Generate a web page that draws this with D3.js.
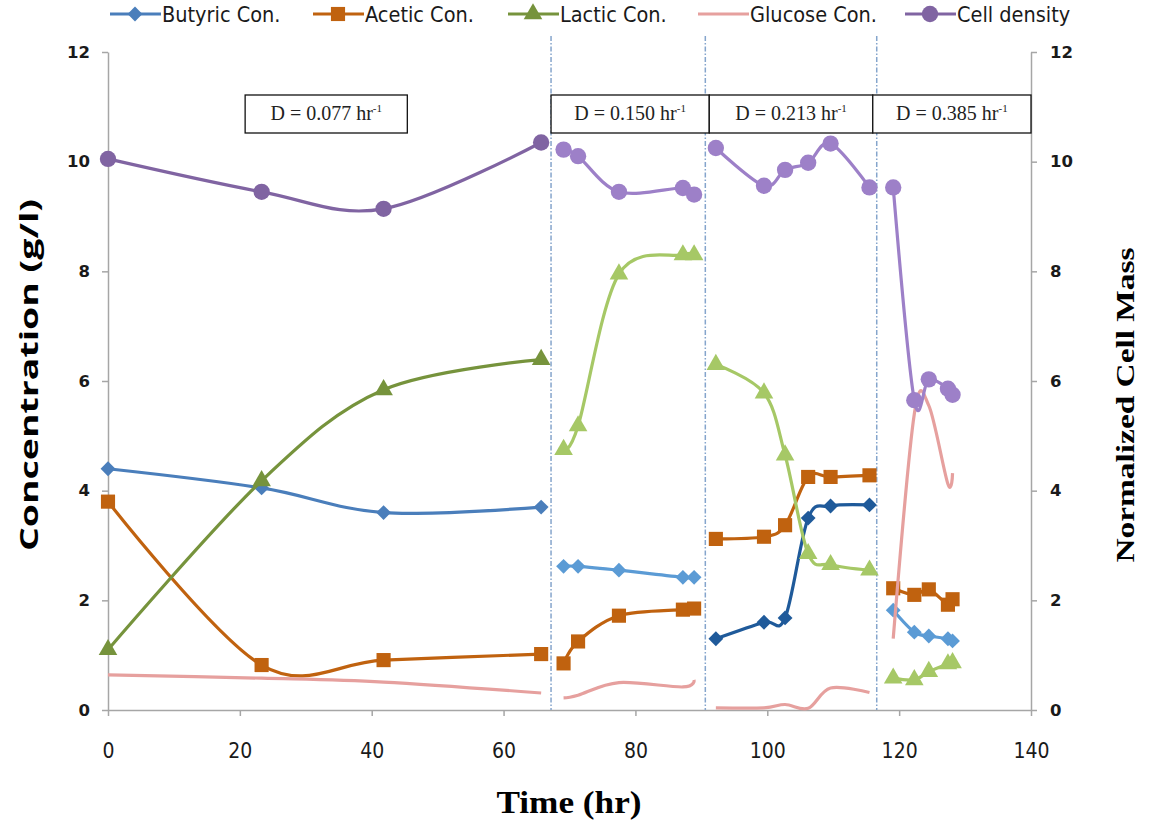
<!DOCTYPE html>
<html>
<head>
<meta charset="utf-8">
<script src="https://cdn.jsdelivr.net/npm/d3@7"></script>
<style>
	body { margin: 0; background: #fff; }
	svg { display: block; }
</style>
</head>
<body>
<script>
// data, one sub-array per dilution-rate period
var timeSegs = [
	[0, 23.3, 41.8, 65.7],
	[69.1, 71.3, 77.5, 87.2, 88.9],
	[92.2, 99.5, 102.7, 106.2, 109.6, 115.5],
	[119.1, 122.3, 124.5, 127.4, 128.1]
];
var butyric = [
	[4.4, 4.05, 3.6, 3.7],
	[2.62, 2.62, 2.55, 2.42, 2.42],
	[1.3, 1.6, 1.68, 3.5, 3.72, 3.74],
	[1.82, 1.42, 1.35, 1.3, 1.26]
];
var acetic = [
	[3.8, 0.82, 0.91, 1.02],
	[0.85, 1.25, 1.72, 1.83, 1.85],
	[3.12, 3.16, 3.37, 4.25, 4.25, 4.28],
	[2.22, 2.1, 2.2, 1.92, 2.02]
];
var lactic = [
	[1.1, 4.18, 5.84, 6.39],
	[4.75, 5.18, 7.95, 8.3, 8.3],
	[6.3, 5.78, 4.65, 2.85, 2.65, 2.55],
	[0.58, 0.55, 0.7, 0.84, 0.86]
];
var glucose = [
	[0.64, 0.58, 0.51, 0.31],
	[0.22, 0.27, 0.5, 0.42, 0.55],
	[0.04, 0.04, 0.1, 0.03, 0.4, 0.32],
	[1.3, 5.4, 5.55, 4.12, 4.32]
];
var cellDensity = [
	[10.05, 9.45, 9.14, 10.35],
	[10.22, 10.1, 9.45, 9.52, 9.4],
	[10.25, 9.56, 9.85, 9.98, 10.33, 9.53],
	[9.53, 5.65, 6.03, 5.86, 5.75]
];
var seriesNames = ['Butyric Con.', 'Acetic Con.', 'Lactic Con.', 'Glucose Con.', 'Cell density'];
var dilutionRates = ['0.077', '0.150', '0.213', '0.385'];
var periodBreaks = [67.2, 90.6, 116.6];
var xTicks = [0, 20, 40, 60, 80, 100, 120, 140];
var yTicks = [0, 2, 4, 6, 8, 10, 12];

// styles
var series = [
	{ values: butyric, shape: 'diamond', colors: ['#4a7ebb', '#5b9bd5', '#1f5a9a', '#5b9bd5'] },
	{ values: acetic, shape: 'square', colors: ['#c0620f', '#c0620f', '#c0620f', '#c0620f'] },
	{ values: lactic, shape: 'triangle', colors: ['#76933c', '#a6c866', '#a6c866', '#a6c866'] },
	{ values: glucose, shape: 'none', colors: ['#e6a09e', '#e6a09e', '#e6a09e', '#e6a09e'] },
	{ values: cellDensity, shape: 'circle', colors: ['#8064a2', '#9d80c8', '#9d80c8', '#9d80c8'] }
];
var legendX = [110, 313, 508, 698, 905];
// box extents in hours
var boxSpans = [[20.8, 45.4], [67.2, 91.2], [91.2, 116.0], [116.0, 140]];

var width = 1151, height = 822;
var svg = d3.select('body').append('svg')
	.attr('width', width)
	.attr('height', height);

var x = d3.scaleLinear().domain([0, 140]).range([108, 1031]);
var y = d3.scaleLinear().domain([0, 12]).range([710, 52]);

function marker (shape) {
	if (shape === 'diamond') return d3.symbol(d3.symbolSquare, 110)();
	if (shape === 'square') return d3.symbol(d3.symbolSquare, 200)();
	if (shape === 'triangle') return d3.symbol(d3.symbolTriangle, 150)();
	if (shape === 'circle') return d3.symbol(d3.symbolCircle, 210)();
	return null;
}
function markerTransform (shape, px, py) {
	return 'translate(' + px + ',' + py + ')' + (shape === 'diamond' ? ' rotate(45)' : '');
}

// axes
var axisColor = '#a6a6a6';
var tickFont = '"DejaVu Sans", Verdana, sans-serif';
var narrowFont = '"Liberation Sans Narrow", "DejaVu Sans Condensed", sans-serif';

var yLeft = d3.axisLeft(y).tickValues(yTicks).tickSize(6).tickPadding(12);
var yRight = d3.axisRight(y).tickValues(yTicks).tickSize(6).tickPadding(13);
var xAxis = d3.axisBottom(x).tickValues(xTicks).tickSize(6).tickPadding(27);

function styleAxis (g) {
	g.selectAll('.domain').attr('stroke', axisColor).attr('stroke-width', 1.5);
	g.selectAll('.tick line').attr('stroke', axisColor).attr('stroke-width', 1.5);
	g.selectAll('.tick text').attr('fill', '#1a1a1a');
}

svg.append('g')
	.attr('class', 'y axis left')
	.attr('transform', 'translate(' + x(0) + ',0)')
	.call(yLeft.tickSizeOuter(0))
	.call(styleAxis)
	.selectAll('text')
	.attr('font-family', tickFont)
	.attr('font-weight', 'bold')
	.attr('font-size', 16.5);

svg.append('g')
	.attr('class', 'y axis right')
	.attr('transform', 'translate(' + x(140) + ',0)')
	.call(yRight.tickSizeOuter(0))
	.call(styleAxis)
	.selectAll('text')
	.attr('font-family', tickFont)
	.attr('font-weight', 'bold')
	.attr('font-size', 16.5);

svg.append('g')
	.attr('class', 'x axis')
	.attr('transform', 'translate(0,' + y(0) + ')')
	.call(xAxis.tickSizeOuter(0))
	.call(styleAxis)
	.selectAll('text')
	.attr('font-family', narrowFont)
	.attr('font-size', 21);

// period separators
svg.selectAll('.sep')
	.data(periodBreaks).enter()
	.append('line')
	.attr('class', 'sep')
	.attr('x1', function (d) { return x(d); })
	.attr('x2', function (d) { return x(d); })
	.attr('y1', 36)
	.attr('y2', y(0))
	.attr('stroke', '#85a5cc')
	.attr('stroke-width', 1.5)
	.attr('stroke-dasharray', '5,2,1.5,2');

// lines and markers
var line = d3.line()
	.x(function (d) { return x(d.t); })
	.y(function (d) { return y(d.v); })
	.curve(d3.curveCardinal.tension(0));

series.forEach(function (s) {
	s.values.forEach(function (vals, i) {
		var pts = vals.map(function (v, j) { return { t: timeSegs[i][j], v: v }; });
		svg.append('path')
			.datum(pts)
			.attr('d', line)
			.attr('fill', 'none')
			.attr('stroke', s.colors[i])
			.attr('stroke-width', 3.2)
			.attr('stroke-linejoin', 'round');
		if (s.shape !== 'none') {
			svg.selectAll(null)
				.data(pts).enter()
				.append('path')
				.attr('d', marker(s.shape))
				.attr('transform', function (d) { return markerTransform(s.shape, x(d.t), y(d.v)); })
				.attr('fill', s.colors[i]);
		}
	});
});

// dilution rate boxes
var boxes = svg.selectAll('.dbox')
	.data(dilutionRates).enter()
	.append('g')
	.attr('class', 'dbox');
boxes.append('rect')
	.attr('x', function (d, i) { return x(boxSpans[i][0]); })
	.attr('y', 95)
	.attr('width', function (d, i) { return x(boxSpans[i][1]) - x(boxSpans[i][0]); })
	.attr('height', 38)
	.attr('fill', '#fff')
	.attr('stroke', '#111')
	.attr('stroke-width', 1.3);
var boxText = boxes.append('text')
	.attr('x', function (d, i) { return (x(boxSpans[i][0]) + x(boxSpans[i][1])) / 2; })
	.attr('y', 120)
	.attr('text-anchor', 'middle')
	.attr('font-family', '"Liberation Serif", "Times New Roman", serif')
	.attr('font-size', 20)
	.attr('fill', '#222');
boxText.append('tspan').text(function (d) { return 'D = ' + d + ' hr'; });
boxText.append('tspan').attr('dy', -8).attr('font-size', 11).text('-1');

// legend
var legend = svg.selectAll('.legend')
	.data(seriesNames).enter()
	.append('g')
	.attr('class', 'legend')
	.attr('transform', function (d, i) { return 'translate(' + legendX[i] + ',14)'; });
legend.append('line')
	.attr('x1', 0)
	.attr('x2', 51)
	.attr('stroke', function (d, i) { return series[i].colors[0]; })
	.attr('stroke-width', 3.2);
legend.append('path')
	.attr('d', function (d, i) { return marker(series[i].shape); })
	.attr('transform', function (d, i) { return markerTransform(series[i].shape, 25, 0); })
	.attr('fill', function (d, i) { return series[i].colors[0]; });
legend.append('text')
	.attr('x', 52)
	.attr('y', 8)
	.attr('font-family', narrowFont)
	.attr('font-size', 21.5)
	.attr('fill', '#1a1a1a')
	.text(function (d) { return d; });

// axis titles
svg.append('text')
	.attr('transform', 'translate(38,375) rotate(-90)')
	.attr('text-anchor', 'middle')
	.attr('font-family', '"Open Sans", sans-serif')
	.attr('font-weight', 'bold')
	.attr('font-size', 25)
	.attr('textLength', 352)
	.attr('lengthAdjust', 'spacingAndGlyphs')
	.attr('fill', '#000')
	.text('Concentration (g/l)');

svg.append('text')
	.attr('transform', 'translate(1134,405) rotate(-90)')
	.attr('text-anchor', 'middle')
	.attr('font-family', '"Liberation Serif", "Times New Roman", serif')
	.attr('font-weight', 'bold')
	.attr('font-size', 25)
	.attr('textLength', 315)
	.attr('lengthAdjust', 'spacingAndGlyphs')
	.attr('fill', '#000')
	.text('Normalized Cell Mass');

svg.append('text')
	.attr('x', 569)
	.attr('y', 813)
	.attr('text-anchor', 'middle')
	.attr('font-family', '"Liberation Serif", "Times New Roman", serif')
	.attr('font-weight', 'bold')
	.attr('font-size', 31)
	.attr('textLength', 145)
	.attr('lengthAdjust', 'spacingAndGlyphs')
	.attr('fill', '#000')
	.text('Time (hr)');
</script>
</body>
</html>
